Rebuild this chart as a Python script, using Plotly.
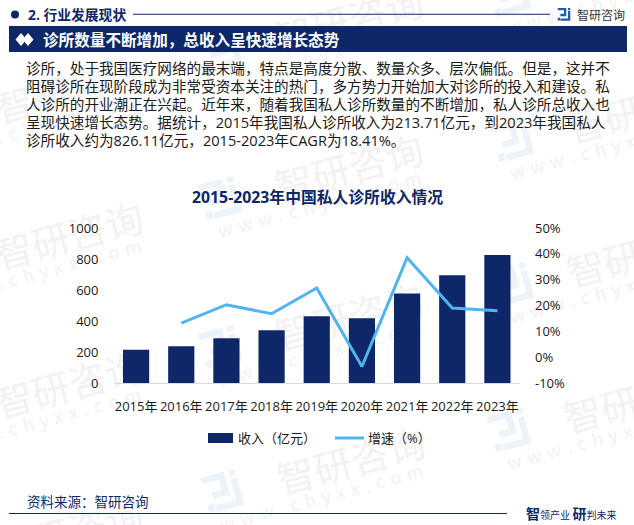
import math
import plotly.graph_objects as go

W, H = 634, 525
years = ["2015年", "2016年", "2017年", "2018年", "2019年", "2020年", "2021年", "2022年", "2023年"]
revenue = [213.71, 237, 288, 340, 430, 417, 578, 695, 826.11]
growth = [None, 13.2, 20.3, 16.8, 26.8, -3.6, 38.5, 19.0, 18.0]
left_ticks = [0, 200, 400, 600, 800, 1000]
right_ticks = [-10, 0, 10, 20, 30, 40, 50]
right_labels = ["-10%", "0%", "10%", "20%", "30%", "40%", "50%"]
body_lines = [
    "诊所，处于我国医疗网络的最末端，特点是高度分散、数量众多、层次偏低。但是，这并不",
    "阻碍诊所在现阶段成为非常受资本关注的热门，多方势力开始加大对诊所的投入和建设。私",
    "人诊所的开业潮正在兴起。近年来，随着我国私人诊所数量的不断增加，私人诊所总收入也",
    "呈现快速增长态势。据统计，2015年我国私人诊所收入为213.71亿元，到2023年我国私人",
    "诊所收入约为826.11亿元，2015-2023年CAGR为18.41%。",
]
mark_origins = [(223, 50), (223, 198), (223, 347), (225, 491),
                (512, -5), (515, 140), (515, 284), (512, 430),
                (-57, 120), (-57, 266), (-57, 415), (-57, 562)]

NAVY = "#0d2769"
SKY = "#4fb4ef"
CJK = "Open Sans, Noto Sans CJK SC"
px = lambda x: x / W
py = lambda y: 1 - y / H

logo_rects = [(-22, -20, 4, -13), (-3, -13, 4, 5), (-14, -2, -3, 5),
              (9, -20, 16, -14), (9, -11, 16, 19), (-14, 12, 9, 19), (-22, 10, -15, 18)]


def logo_path(cx, cy, scale, deg):
    a = math.radians(deg)
    c, s = math.cos(a), math.sin(a)
    parts = []
    for x0, y0, x1, y1 in logo_rects:
        pts = [(x0, y0), (x1, y0), (x1, y1), (x0, y1)]
        out = []
        for x, y in pts:
            X = cx + scale * (x * c - y * s)
            Y = cy + scale * (x * s + y * c)
            out.append(f"{px(X):.5f},{py(Y):.5f}")
        parts.append("M" + " L".join(out) + " Z")
    return " ".join(parts)


shapes = []
gap = "\u2004"
for ox, oy in mark_origins:
    shapes.append(dict(type="path", xref="paper", yref="paper", layer="below",
                       path=logo_path(ox, oy, 0.95, -15), fillcolor="#eef3fa", line=dict(width=0)))
    for dx, dy, txt, size in [(127, -26, "智研咨询", 38), (97, 8, gap.join("www.chyxx.com"), 18)]:
        cx, cy = ox + dx, oy + dy
        shapes.append(dict(type="rect", xref="paper", yref="paper", layer="below",
                           x0=px(cx - 5), x1=px(cx + 5), y0=py(cy + 5), y1=py(cy - 5),
                           fillcolor="rgba(0,0,0,0)", line=dict(width=0),
                           label=dict(text=txt, textangle=-15, textposition="middle center",
                                      font=dict(family="Noto Sans CJK SC", size=size, color="#f2f2f2"))))

def rect(x0, y0, x1, y1, color):
    return dict(type="rect", xref="paper", yref="paper", layer="below",
                x0=px(x0), x1=px(x1), y0=py(y1), y1=py(y0), fillcolor=color, line=dict(width=0))

shapes += [
    rect(9, 26, 627, 52, NAVY),
    rect(133, 13.7, 550, 14.7, NAVY),
    rect(9, 513, 507, 514, NAVY),
    rect(208, 433, 233, 443, NAVY),
    rect(335, 436.5, 364, 439.5, SKY),
    dict(type="circle", xref="paper", yref="paper", layer="below",
         x0=px(11), x1=px(19), y0=py(18.5), y1=py(10.5), fillcolor=NAVY, line=dict(width=0)),
    dict(type="path", xref="paper", yref="paper", layer="below",
         path=logo_path(565, 14.5, 0.33, 0), fillcolor="#1d5fa8", line=dict(width=0)),
]
for cx in (21, 28):
    shapes.append(dict(type="path", xref="paper", yref="paper", layer="below",
                       path=f"M{px(cx-5.5)},{py(39.5)} L{px(cx)},{py(33)} L{px(cx+5.5)},{py(39.5)} L{px(cx)},{py(46)} Z",
                       fillcolor="white", line=dict(width=0)))


def note(x, y, text, size, color, anchor="left", bold=False):
    return dict(xref="paper", yref="paper", x=px(x), y=py(y), text=f"<b>{text}</b>" if bold else text,
                showarrow=False, xanchor=anchor, yanchor="middle", align="left",
                font=dict(family=CJK, size=size, color=color), borderpad=0)


annotations = [
    note(27, 14.5, "2. 行业发展现状", 13.8, NAVY, bold=True),
    note(576, 15, "智研咨询", 12, "#333333"),
    note(42, 40, "诊所数量不断增加，总收入呈快速增长态势", 15.6, "white", bold=True),
    note(317, 197, "2015-2023年中国私人诊所收入情况", 15.8, NAVY, anchor="center", bold=True),
    note(26, 502, "资料来源：智研咨询", 13.5, NAVY),
    note(525, 513, '<span style="font-size:14px"><b>智</b></span>领产业 <span style="font-size:14px"><b>研</b></span>判未来', 10, NAVY),
    note(237, 438, "收入（亿元）", 13, "#1a1a1a"),
    note(367, 438, "增速（%）", 13, "#1a1a1a"),
]
for i, line in enumerate(body_lines):
    annotations.append(note(25, 68.5 + i * 17.8, line, 14.6, "#1a1a1a"))

fig = go.Figure()
fig.add_trace(go.Bar(x=years, y=revenue, name="收入（亿元）", marker=dict(color=NAVY, line=dict(width=0)), yaxis="y"))
fig.add_trace(go.Scatter(x=years, y=growth, name="增速（%）", mode="lines", line=dict(color=SKY, width=3), yaxis="y2", connectgaps=False))

fig.update_layout(
    width=W, height=H, margin=dict(l=0, r=0, t=0, b=0, pad=0),
    paper_bgcolor="white", plot_bgcolor="rgba(0,0,0,0)",
    font=dict(family=CJK, size=13, color="#1a1a1a"),
    bargap=0.42, showlegend=False,
    shapes=shapes, annotations=annotations,
    xaxis=dict(domain=[px(113.5), px(520)], showgrid=False, showline=True, linecolor="#d9d9d9", linewidth=1,
               ticks="", ticklabelstandoff=11, tickfont=dict(size=13, color="#1a1a1a"), automargin=False, fixedrange=True),
    yaxis=dict(domain=[py(383), py(228)], range=[0, 1000], tickvals=left_ticks, showgrid=False, zeroline=False,
               showline=False, ticks="", ticklabelstandoff=14, tickfont=dict(size=13, color="#1a1a1a"), automargin=False),
    yaxis2=dict(overlaying="y", side="right", range=[-10, 50], tickvals=right_ticks, ticktext=right_labels, tickmode="array", showgrid=False,
                zeroline=False, showline=False, ticks="", ticklabelstandoff=14, tickfont=dict(size=13, color="#1a1a1a"), automargin=False),
)
fig.write_html("out.html", config=dict(displayModeBar=False),
               post_script="document.body.style.margin='0';document.documentElement.style.overflow='hidden';")
